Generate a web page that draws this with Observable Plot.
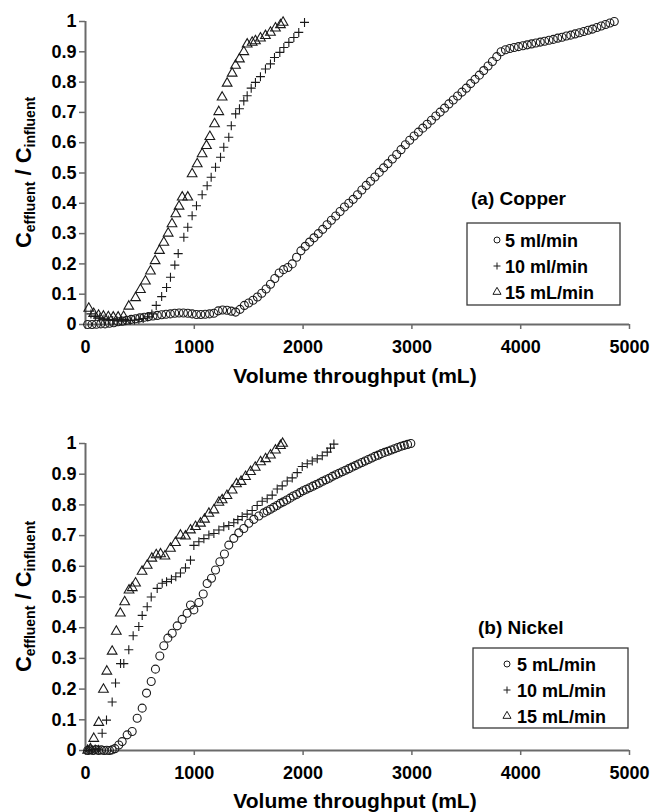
<!DOCTYPE html>
<html><head><meta charset="utf-8">
<script src="https://cdn.jsdelivr.net/npm/d3@7"></script>
<script src="https://cdn.jsdelivr.net/npm/@observablehq/plot@0.6"></script>
<style>
html,body{margin:0;padding:0;background:#fff;}
#wrap{width:666px;height:812px;overflow:hidden;background:#fff;}
svg{display:block;}
</style></head><body><div id="wrap"></div>
<script>
// ---------- axis ticks ----------
const xTicks = [0, 1000, 2000, 3000, 4000, 5000];
const yTicks = [0, 0.1, 0.2, 0.3, 0.4, 0.5, 0.6, 0.7, 0.8, 0.9, 1];
const yTickLabels = ["0", "0.1", "0.2", "0.3", "0.4", "0.5", "0.6", "0.7", "0.8", "0.9", "1"];
const xTitle = "Volume throughput (mL)";

// ---------- (a) Copper ----------
const cuTitle = "(a) Copper";
const cuLegend = ["5 ml/min", "10 ml/min", "15 mL/min"];
const cuV5 = [20,60,100,140,180,220,260,300,340,380,420,460,500,540,580,620,660,700,740,780,820,860,900,940,980,1020,1060,1100,1140,1180,1220,1260,1300,1340,1380,1420,1460,1500,1540,1580,1620,1660,1700,1740,1780,1820,1860,1900,1940,1980,2020,2060,2100,2140,2180,2220,2260,2300,2340,2380,2420,2460,2500,2540,2580,2620,2660,2700,2740,2780,2820,2860,2900,2940,2980,3020,3060,3100,3140,3180,3220,3260,3300,3340,3380,3420,3460,3500,3540,3580,3620,3660,3700,3740,3780,3820,3860,3900,3940,3980,4020,4060,4100,4140,4180,4220,4260,4300,4340,4380,4420,4460,4500,4540,4580,4620,4660,4700,4740,4780,4820,4860];
const cuC5 = [0.000,0.000,0.001,0.002,0.002,0.004,0.006,0.009,0.011,0.014,0.017,0.019,0.022,0.024,0.026,0.028,0.030,0.032,0.034,0.035,0.037,0.038,0.038,0.037,0.035,0.033,0.033,0.034,0.035,0.037,0.045,0.048,0.047,0.044,0.041,0.050,0.063,0.071,0.080,0.091,0.103,0.117,0.133,0.152,0.170,0.181,0.188,0.200,0.222,0.243,0.258,0.272,0.286,0.300,0.314,0.329,0.344,0.358,0.373,0.388,0.400,0.413,0.428,0.444,0.459,0.473,0.487,0.502,0.517,0.531,0.546,0.561,0.577,0.593,0.608,0.622,0.635,0.648,0.661,0.674,0.688,0.701,0.714,0.728,0.741,0.754,0.767,0.780,0.795,0.809,0.823,0.838,0.853,0.868,0.884,0.900,0.907,0.911,0.914,0.917,0.920,0.923,0.926,0.929,0.932,0.935,0.938,0.941,0.945,0.948,0.952,0.955,0.959,0.963,0.967,0.971,0.975,0.980,0.985,0.990,0.995,1.000];
const cuV10 = [50,90,130,170,210,250,290,330,370,410,450,490,530,570,610,650,700,745,781,821,852,904,940,980,1020,1072,1118,1155,1195,1241,1271,1317,1340,1380,1415,1455,1486,1523,1562,1608,1654,1700,1737,1786,1823,1869,1915,1960,2013];
const cuC10 = [0.035,0.028,0.022,0.018,0.015,0.013,0.012,0.012,0.012,0.013,0.015,0.017,0.020,0.025,0.035,0.063,0.092,0.122,0.156,0.196,0.234,0.288,0.321,0.359,0.392,0.428,0.458,0.486,0.519,0.552,0.585,0.618,0.656,0.695,0.712,0.738,0.755,0.780,0.799,0.818,0.843,0.860,0.881,0.898,0.914,0.931,0.947,0.964,0.997];
const cuV15 = [30,75,120,165,210,255,300,350,398,460,505,551,597,640,680,720,760,795,830,860,889,940,980,1027,1072,1112,1143,1186,1225,1256,1302,1348,1379,1415,1455,1486,1532,1562,1608,1654,1700,1746,1792,1816];
const cuC15 = [0.053,0.036,0.030,0.027,0.025,0.024,0.024,0.026,0.060,0.088,0.115,0.143,0.176,0.210,0.244,0.271,0.301,0.332,0.365,0.390,0.420,0.420,0.497,0.530,0.563,0.590,0.620,0.662,0.702,0.750,0.796,0.829,0.855,0.876,0.900,0.925,0.931,0.936,0.945,0.953,0.964,0.978,0.989,0.997];

// ---------- (b) Nickel ----------
const niTitle = "(b) Nickel";
const niLegend = ["5 mL/min", "10 mL/min", "15 mL/min"];
const niV5 = [20,45,70,95,120,145,170,195,220,245,270,306,337,383,429,475,521,561,604,643,683,720,757,797,843,888,934,965,996,1042,1082,1118,1158,1195,1235,1277,1317,1363,1409,1455,1501,1547,1593,1639,1670,1700,1730,1760,1790,1820,1850,1880,1910,1940,1970,2000,2030,2060,2090,2120,2150,2180,2210,2240,2270,2300,2330,2360,2390,2420,2450,2480,2510,2540,2570,2600,2630,2660,2690,2720,2750,2780,2810,2840,2870,2900,2930,2960,2990];
const niC5 = [0.000,0.002,0.000,0.003,0.000,0.002,0.000,0.001,0.000,0.002,0.006,0.018,0.029,0.051,0.062,0.105,0.138,0.187,0.225,0.265,0.308,0.341,0.366,0.382,0.406,0.427,0.447,0.474,0.458,0.482,0.510,0.544,0.561,0.588,0.615,0.640,0.669,0.691,0.709,0.723,0.740,0.753,0.764,0.774,0.780,0.786,0.792,0.798,0.805,0.810,0.816,0.822,0.829,0.834,0.840,0.846,0.851,0.856,0.861,0.866,0.871,0.877,0.882,0.887,0.893,0.898,0.903,0.908,0.913,0.918,0.923,0.928,0.933,0.938,0.943,0.948,0.953,0.958,0.962,0.967,0.971,0.975,0.979,0.983,0.987,0.991,0.994,0.997,1.000];
const niV10 = [30,60,90,120,153,193,245,276,322,352,398,438,490,521,567,604,659,705,745,790,830,873,919,965,996,1042,1088,1134,1180,1226,1271,1317,1363,1400,1440,1486,1532,1578,1624,1670,1716,1762,1808,1854,1900,1946,1992,2038,2084,2130,2176,2222,2252,2283];
const niC10 = [0.000,0.003,0.005,0.004,0.056,0.099,0.158,0.220,0.283,0.283,0.328,0.374,0.404,0.440,0.468,0.500,0.528,0.545,0.550,0.558,0.566,0.578,0.595,0.620,0.668,0.680,0.690,0.702,0.707,0.718,0.729,0.733,0.742,0.752,0.762,0.770,0.782,0.798,0.812,0.820,0.832,0.852,0.862,0.878,0.888,0.905,0.925,0.934,0.943,0.950,0.960,0.972,0.985,0.998];
const niV15 = [20,45,76,122,165,196,245,283,320,360,400,430,460,520,567,610,650,690,730,781,827,873,919,965,1011,1057,1094,1134,1180,1226,1256,1300,1348,1388,1430,1471,1517,1560,1609,1655,1700,1746,1792,1812];
const niC15 = [0.000,0.005,0.039,0.091,0.199,0.258,0.323,0.388,0.447,0.484,0.522,0.530,0.545,0.583,0.603,0.626,0.637,0.640,0.633,0.658,0.677,0.701,0.698,0.718,0.729,0.740,0.753,0.772,0.783,0.808,0.816,0.830,0.848,0.868,0.876,0.892,0.908,0.922,0.940,0.950,0.962,0.978,0.993,1.000];

// ---------- styling ----------
const FONT = "'Liberation Sans', Arial, Helvetica, sans-serif";
const INK = "#1a1a1a";
const AXIS = "#6a6a6a";
const plusSym = { draw(ctx, size) { const r = Math.sqrt(size / Math.PI); ctx.moveTo(-r, 0); ctx.lineTo(r, 0); ctx.moveTo(0, -r); ctx.lineTo(0, r); } };
const symbols = [d3.symbolCircle, plusSym, d3.symbolTriangle];
const toRows = (V, C) => V.map((v, i) => ({v, c: C[i]}));

function chart(cfg) {
  const svg = Plot.plot({
    width: 666, height: cfg.height,
    marginLeft: 85, marginRight: 37, marginTop: cfg.mt, marginBottom: cfg.mb,
    style: {fontFamily: FONT, fontSize: "18px", fontWeight: "bold", color: "#000", background: "#fff", overflow: "visible"},
    x: {domain: [0, 5000], ticks: xTicks, tickSize: 5, tickPadding: 11, tickFormat: d => String(d), label: null},
    y: {domain: [0, 1], ticks: yTicks, tickSize: 6, tickPadding: 3, tickFormat: d => yTickLabels[yTicks.indexOf(d)], label: null},
    marks: [
      Plot.ruleY([0], {stroke: AXIS, strokeWidth: 2}),
      Plot.ruleX([0], {stroke: AXIS, strokeWidth: 2}),
      Plot.dot(toRows(cfg.V[0], cfg.C[0]), {x: "v", y: "c", symbol: symbols[0], r: 4, stroke: INK, fill: "none", strokeWidth: 1.1}),
      Plot.dot(toRows(cfg.V[1], cfg.C[1]), {x: "v", y: "c", symbol: symbols[1], r: 4.5, stroke: INK, fill: "none", strokeWidth: 1.1}),
      Plot.dot(toRows(cfg.V[2], cfg.C[2]), {x: "v", y: "c", symbol: symbols[2], r: 3.6, stroke: INK, fill: "none", strokeWidth: 1.1})
    ]
  });
  const s = d3.select(svg);
  s.selectAll('g[aria-label="x-axis tick"], g[aria-label="y-axis tick"]').attr("stroke", AXIS).attr("stroke-width", 1.5);
  // y title with subscripts
  const yt = s.append("text").attr("transform", `translate(31,${cfg.mt + (cfg.height - cfg.mt - cfg.mb) / 2}) rotate(-90)`)
    .attr("text-anchor", "middle").attr("font-family", FONT).attr("font-weight", "bold").attr("fill", "#000");
  yt.append("tspan").attr("font-size", 22).text("C");
  yt.append("tspan").attr("font-size", 14).attr("dy", 4).text("effluent");
  yt.append("tspan").attr("font-size", 22).attr("dy", -4).text(" / C");
  yt.append("tspan").attr("font-size", 14).attr("dy", 4).text("influent");
  // x title
  s.append("text").attr("x", 355).attr("y", cfg.xTitleY).attr("text-anchor", "middle")
    .attr("font-family", FONT).attr("font-weight", "bold").attr("font-size", 21).attr("fill", "#000").text(xTitle);
  // panel title + legend
  const L = cfg.legend;
  const g = s.append("g").attr("font-family", FONT).attr("font-weight", "bold").attr("fill", "#000").attr("text-anchor", "start");
  g.append("text").attr("text-anchor", "start").attr("x", L.titleX).attr("y", L.titleY).attr("font-size", 19).text(cfg.title);
  g.append("rect").attr("x", L.x).attr("y", L.y).attr("width", L.w).attr("height", L.h)
    .attr("fill", "#fff").attr("stroke", "#3a3a3a").attr("stroke-width", 1.3);
  const legSizes = [Math.PI * 9, Math.PI * 12.25, Math.PI * 9];
  cfg.labels.forEach((lab, i) => {
    const cy = L.rows[i];
    g.append("path").attr("transform", `translate(${L.mx},${cy})`).attr("d", d3.symbol(symbols[i], legSizes[i])())
      .attr("fill", "none").attr("stroke", INK).attr("stroke-width", 1);
    g.append("text").attr("text-anchor", "start").attr("x", L.tx).attr("y", cy + 6.5).attr("font-size", 18).text(lab);
  });
  return svg;
}

const wrap = document.getElementById("wrap");
wrap.append(chart({
  height: 400, mt: 21, mb: 76, xTitleY: 383,
  V: [cuV5, cuV10, cuV15], C: [cuC5, cuC10, cuC15],
  title: cuTitle, labels: cuLegend,
  legend: {titleX: 471, titleY: 205, x: 467, y: 223, w: 153, h: 82, rows: [240, 266, 292], mx: 497, tx: 505}
}));
wrap.append(chart({
  height: 412, mt: 43, mb: 62, xTitleY: 408,
  V: [niV5, niV10, niV15], C: [niC5, niC10, niC15],
  title: niTitle, labels: niLegend,
  legend: {titleX: 478, titleY: 234, x: 473, y: 248, w: 155, h: 80, rows: [264, 290, 316], mx: 507, tx: 517}
}));
</script></body></html>
